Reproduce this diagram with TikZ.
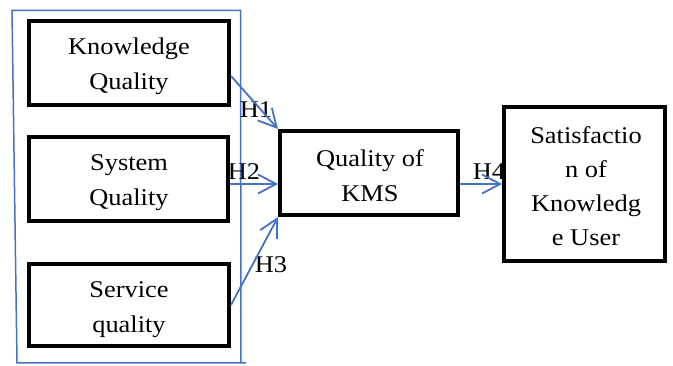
\documentclass[tikz,border=0pt]{standalone}
\usepackage{fontspec}
\setmainfont{Liberation Serif}[FakeStretch=1.1]
\usepackage{tikz}
\usetikzlibrary{arrows.meta}
\usetikzlibrary{positioning}
\definecolor{linkblue}{RGB}{68,114,196}

\begin{document}
\begin{tikzpicture}[
    x=1pt, y=-1pt,
    box/.style={draw, line width=4pt, fill=white, inner sep=0pt},
    txt/.style={anchor=base, align=center, inner sep=0pt,
      font=\fontsize{24}{35}\selectfont},
    hyp/.style={anchor=base, inner sep=0pt,
      font=\fontsize{24}{35}\selectfont},
    frame/.style={draw=linkblue, line width=1.5pt},
    link/.style={draw=linkblue, line width=1.8pt,
      -{Straight Barb[length=18pt, width=19pt, line width=1.8pt]}}]

    \useasboundingbox (0, 0) rectangle (673, 366);

    % outer frame round the three inputs
    \draw [frame] (246, 363) -- (17, 363) -- (12, 10.5)
    -- (240.5, 10.5) -- (241, 363);

    \node [hyp] (h1) at (256, 118) {H1};
    \node [hyp] (h2) at (244, 180) {H2};
    \node [hyp] (h3) at (271, 273) {H3};
    \node [hyp] (h4) at (489, 180) {H4};

    \node [box, minimum width=200pt, minimum height=84pt] (kq) at (129, 63) {};
    \node [box, minimum width=199pt, minimum height=84pt] (sq) at (128.5, 179) {};
    \node [box, minimum width=200pt, minimum height=82pt] (svq) at (129, 305) {};
    \node [box, minimum width=178pt, minimum height=84pt] (kms) at (369, 173) {};
    \node [box, minimum width=161pt, minimum height=154pt] (sat) at (584.5, 184) {};

    % base of a two-line node is the last line
    \node [txt] (kqtext) at (129, 90) {Knowledge\\Quality};
    \node [txt] (sqtext) at (129, 206) {System\\Quality};
    \node [txt] (svqtext) at (129, 333) {Service\\quality};
    \node [txt] (kmstext) at (370, 202) {Quality of\\KMS};
    \node [txt, font=\fontsize{24}{34.3}\selectfont] (sattext) at (586, 246)
    {Satisfactio\\n of\\Knowledg\\e User};

    \draw [link] ([yshift=-13pt]kq.east) -- (kms.north west);
    \draw [link] ([yshift=-5pt]sq.east) -- ([yshift=-11pt]kms.west);
    \draw [link] (svq.east) -- (kms.south west);
    \draw [link] ([yshift=-11pt]kms.east) -- (sat.west);

  \end{tikzpicture}
\end{document}
